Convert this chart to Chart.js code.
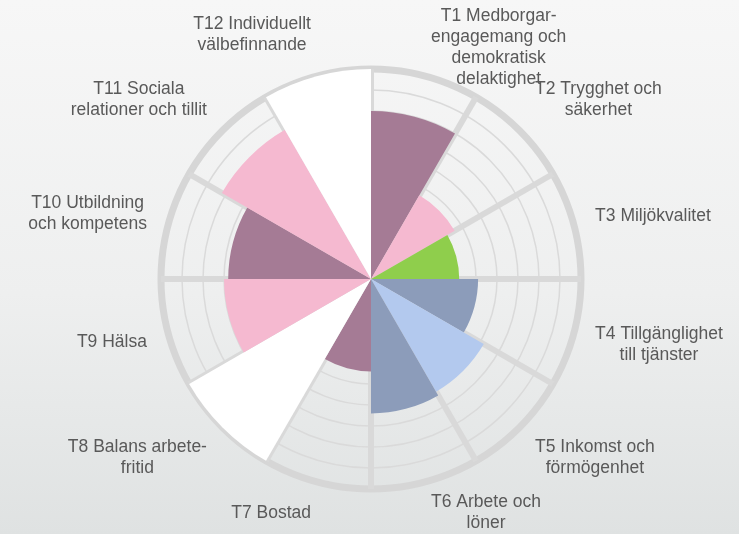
<!DOCTYPE html>
<html>
<head>
<meta charset="utf-8">
<script src="https://cdn.jsdelivr.net/npm/chart.js@4"></script>
<style>
  html, body { margin: 0; padding: 0; }
  body {
    width: 739px; height: 534px; overflow: hidden;
    background: linear-gradient(to bottom, #f7f7f7 0%, #eeefef 55%, #dfe2e2 100%);
  }
  #wrap { position: relative; width: 739px; height: 534px; }
</style>
</head>
<body>
<div id="wrap"><canvas id="c" width="739" height="534"></canvas></div>
<script>
const categories = [
  ["T1 Medborgar-", "engagemang och", "demokratisk", "delaktighet"],
  ["T2 Trygghet och", "säkerhet"],
  ["T3 Miljökvalitet"],
  ["T4 Tillgänglighet", "till tjänster"],
  ["T5 Inkomst och", "förmögenhet"],
  ["T6 Arbete och", "löner"],
  ["T7 Bostad"],
  ["T8 Balans arbete-", "fritid"],
  ["T9 Hälsa"],
  ["T10 Utbildning", "och kompetens"],
  ["T11 Sociala", "relationer och tillit"],
  ["T12 Individuellt", "välbefinnande"]
];
const values = [8.0, 4.6, 4.2, 5.1, 6.2, 6.4, 4.4, 10, 7.0, 6.8, 8.2, 10];
const colors = ["#a57b95", "#f5b9d0", "#8fce4c", "#8c9cba", "#b3c9ee", "#8c9cba",
                "#a57b95", "#ffffff", "#f5b9d0", "#a57b95", "#f5b9d0", "#ffffff"];
const scaleMax = 10;
const scaleStep = 1;

const labelPlugin = {
  id: 'outerLabels',
  afterDraw(chart) {
    const scale = chart.scales.r;
    const ctx = chart.ctx;
    const n = categories.length;
    const cx = scale.xCenter, cy = scale.yCenter;
    const R = scale.drawingArea + 22;
    const lineH = 21;
    const H = chart.height;
    ctx.save();
    ctx.font = '17.5px "Liberation Sans", Arial, sans-serif';
    ctx.fillStyle = '#595959';
    ctx.textAlign = 'center';
    ctx.textBaseline = 'middle';
    for (let i = 0; i < n; i++) {
      const a = scale.getIndexAngle(i) + Math.PI / n; // clockwise from top
      const s = Math.sin(a), c = Math.cos(a);
      const px = cx + R * s, py = cy - R * c;
      const lines = categories[i];
      const w = Math.max(...lines.map(l => ctx.measureText(l).width));
      const h = lines.length * lineH;
      let bx;
      if (s > 0.05) bx = px + w / 2;
      else if (s < -0.05) bx = px - w / 2;
      else bx = px;
      let by = py - c * h / 2;
      // keep the label block inside the canvas
      by = Math.max(by, 6 + h / 2);
      by = Math.min(by, H - h / 2);
      lines.forEach((l, k) => {
        ctx.fillText(l, bx, by - h / 2 + lineH * (k + 0.5));
      });
    }
    ctx.restore();
  }
};

new Chart(document.getElementById('c'), {
  type: 'polarArea',
  data: {
    labels: categories,
    datasets: [{
      data: values,
      backgroundColor: colors,
      borderWidth: 0
    }]
  },
  options: {
    responsive: false,
    animation: false,
    layout: { padding: { top: 69, bottom: 45, left: 100, right: 97 } },
    plugins: { legend: { display: false }, tooltip: { enabled: false } },
    scales: {
      r: {
        min: 0,
        max: scaleMax,
        ticks: { display: false, stepSize: scaleStep },
        pointLabels: { display: false },
        angleLines: { display: true, color: '#d9d9d9', lineWidth: 6 },
        grid: {
          color: (ctx) => ctx.index === scaleMax / scaleStep ? '#d6d6d6' : '#dadada',
          lineWidth: (ctx) => ctx.index === scaleMax / scaleStep ? 7 : 1.5
        }
      }
    }
  },
  plugins: [labelPlugin]
});
</script>
</body>
</html>
